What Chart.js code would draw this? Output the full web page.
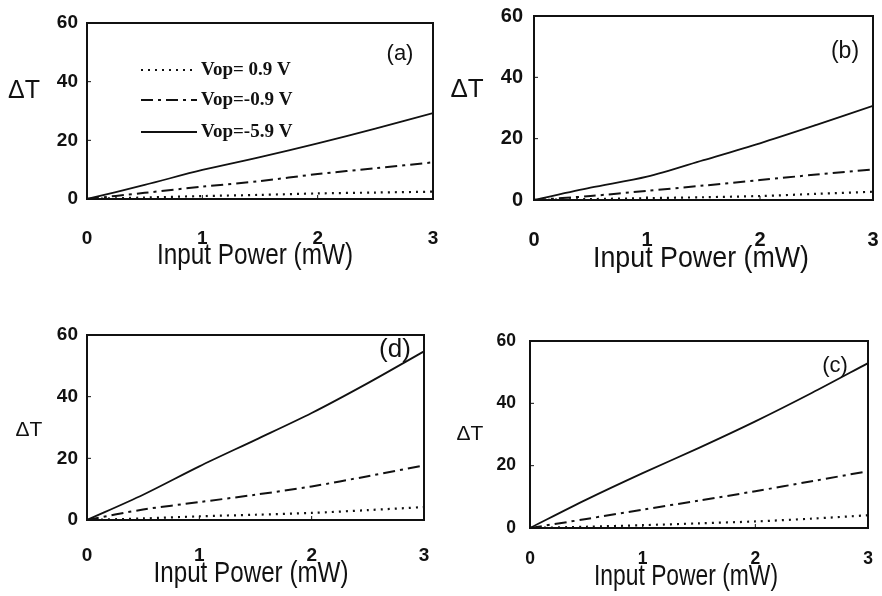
<!DOCTYPE html>
<html>
<head>
<meta charset="utf-8">
<script src="https://cdn.jsdelivr.net/npm/chart.js@4"></script>
<style>
  body { margin: 0; background: #fff; }
  #wrap { position: relative; width: 882px; height: 596px; }
  canvas { position: absolute; }
</style>
</head>
<body>
<div id="wrap">
  <canvas id="chartA" width="441" height="298" style="left:0;top:0"></canvas>
  <canvas id="chartB" width="441" height="298" style="left:441px;top:0"></canvas>
  <canvas id="chartD" width="441" height="298" style="left:0;top:298px"></canvas>
  <canvas id="chartC" width="441" height="298" style="left:441px;top:298px"></canvas>
</div>
<script>
// input power (mW)
const powerX = [0, 0.5, 1, 1.5, 2, 2.5, 3];
const yTicks = [0, 20, 40, 60];
const xTicks = [0, 1, 2, 3];
const seriesNames = ['Vop= 0.9 V', 'Vop=-0.9 V', 'Vop=-5.9 V'];

// delta T for each panel, one array per Vop
const aVop09  = [0, 0.5, 1.0, 1.4, 1.9, 2.2, 2.5];
const aVopM09 = [0, 2.1, 4.2, 6.1, 8.5, 10.5, 12.5];
const aVopM59 = [0, 4.8, 9.9, 14.3, 19.0, 24.0, 29.3];

const bVop09  = [0, 0.3, 0.6, 0.9, 1.3, 2.0, 2.7];
const bVopM09 = [0, 1.3, 3.0, 4.7, 6.5, 8.3, 10.0];
const bVopM59 = [0, 4.0, 7.6, 13.0, 18.5, 24.5, 30.7];

const dVop09  = [0, 0.5, 1.2, 1.7, 2.3, 3.2, 4.2];
const dVopM09 = [0, 3.4, 5.8, 8.2, 10.9, 14.2, 17.7];
const dVopM59 = [0, 8.2, 17.4, 26.0, 34.7, 44.4, 54.7];

const cVop09  = [0, 0.4, 0.9, 1.5, 2.1, 3.0, 4.1];
const cVopM09 = [0, 2.9, 5.9, 8.8, 11.8, 15.0, 18.2];
const cVopM59 = [0, 9.1, 17.6, 25.7, 34.2, 43.3, 52.9];

const lineStyles = [
    { borderDash: [2, 5], borderWidth: 2.2 },
    { borderDash: [12, 5, 3, 5], borderWidth: 2 },
    { borderDash: [], borderWidth: 1.8 },
];

const panelDecor = {
    id: 'panelDecor',
    afterDraw(chart, args, o) {
        const ctx = chart.ctx;
        const a = chart.chartArea;
        const xs = chart.scales.x, ys = chart.scales.y;
        ctx.save();
        // frame
        ctx.strokeStyle = '#111';
        ctx.lineWidth = 2;
        ctx.strokeRect(a.left, a.top, a.right - a.left, a.bottom - a.top);
        // small inner ticks
        ctx.lineWidth = 1;
        [20, 40].forEach(v => {
            const y = ys.getPixelForValue(v);
            ctx.beginPath(); ctx.moveTo(a.left, y); ctx.lineTo(a.left + 4, y); ctx.stroke();
        });
        [1, 2].forEach(v => {
            const x = xs.getPixelForValue(v);
            ctx.beginPath(); ctx.moveTo(x, a.bottom); ctx.lineTo(x, a.bottom - 4); ctx.stroke();
        });
        ctx.fillStyle = '#111';
        ctx.textAlign = 'center';
        ctx.textBaseline = 'middle';
        // delta T
        ctx.font = o.dtFont + 'px "Liberation Sans", Arial, sans-serif';
        ctx.fillText('\u0394T', o.dtPos[0], o.dtPos[1]);
        // panel letter
        ctx.font = o.tagFont + 'px "Liberation Sans", Arial, sans-serif';
        ctx.fillText(o.tag, o.tagPos[0], o.tagPos[1]);
        // x title, squeezed to the narrow face of the original
        ctx.font = '30px "Liberation Sans", Arial, sans-serif';
        const t = 'Input Power (mW)';
        const k = o.titleWidth / ctx.measureText(t).width;
        ctx.translate(o.titlePos[0], o.titlePos[1]);
        ctx.scale(k, 1);
        ctx.fillText(t, 0, 0);
        ctx.restore();

        if (o.legend) {
            ctx.save();
            ctx.strokeStyle = '#111';
            ctx.fillStyle = '#111';
            ctx.font = 'bold 19px "Liberation Serif", "Times New Roman", serif';
            ctx.textBaseline = 'middle';
            chart.data.datasets.forEach((ds, i) => {
                const y = o.legend.rows[i];
                ctx.lineWidth = ds.borderWidth;
                ctx.setLineDash(ds.borderDash);
                ctx.beginPath();
                ctx.moveTo(o.legend.x0, y);
                ctx.lineTo(o.legend.x1, y);
                ctx.stroke();
                ctx.setLineDash([]);
                ctx.fillText(ds.label, o.legend.x1 + 4, y);
            });
            ctx.restore();
        }
    }
};

function makePanel(id, series, p) {
    const ctx = document.getElementById(id).getContext('2d');
    const tickFont = { family: '"Liberation Sans", Arial, sans-serif', size: p.tickFont, weight: 'bold' };
    // invisible tick marks give the label gap without widening the layout
    const hiddenGrid = (len) => ({
        display: true, drawOnChartArea: false, drawTicks: true,
        tickLength: len, color: 'rgba(0,0,0,0)',
    });
    new Chart(ctx, {
        type: 'line',
        data: {
            datasets: series.map((vals, i) => ({
                label: seriesNames[i],
                data: powerX.map((x, j) => ({ x: x, y: vals[j] })),
                borderColor: '#111',
                borderDash: lineStyles[i].borderDash,
                borderWidth: lineStyles[i].borderWidth,
                pointRadius: 0,
                tension: 0.3,
                fill: false,
            })),
        },
        options: {
            responsive: false,
            animation: false,
            layout: { padding: { left: 0, top: p.top, right: p.right, bottom: 0 } },
            plugins: {
                legend: { display: false },
                tooltip: { enabled: false },
                panelDecor: p.decor,
            },
            scales: {
                x: {
                    type: 'linear',
                    min: 0, max: 3,
                    afterFit: (s) => { s.height = p.xHeight; },
                    afterBuildTicks: (s) => { s.ticks = xTicks.map(v => ({ value: v })); },
                    grid: hiddenGrid(p.xPad),
                    border: { display: false },
                    ticks: { color: '#111', font: tickFont, padding: 0, maxRotation: 0 },
                },
                y: {
                    min: 0, max: 60,
                    afterFit: (s) => { s.width = p.yWidth; },
                    afterBuildTicks: (s) => { s.ticks = yTicks.map(v => ({ value: v })); },
                    grid: hiddenGrid(p.yPad),
                    border: { display: false },
                    ticks: { color: '#111', font: tickFont, padding: 0 },
                },
            },
        },
        plugins: [panelDecor],
    });
}

makePanel('chartA', [aVop09, aVopM09, aVopM59], {
    top: 23, right: 8, yWidth: 87, xHeight: 99, yPad: 9, xPad: 28, tickFont: 19,
    decor: {
        dtFont: 25, dtPos: [24, 91], tag: '(a)', tagFont: 22, tagPos: [400, 54],
        titlePos: [255, 256], titleWidth: 196,
        legend: { x0: 141, x1: 197, rows: [70, 100, 132] },
    },
});
makePanel('chartB', [bVop09, bVopM09, bVopM59], {
    top: 16, right: 9, yWidth: 93, xHeight: 98, yPad: 11, xPad: 28, tickFont: 20,
    decor: {
        dtFont: 26, dtPos: [26, 90], tag: '(b)', tagFont: 23, tagPos: [404, 52],
        titlePos: [260, 259], titleWidth: 216,
    },
});
makePanel('chartD', [dVop09, dVopM09, dVopM59], {
    top: 37, right: 17, yWidth: 87, xHeight: 76, yPad: 9, xPad: 24, tickFont: 19,
    decor: {
        dtFont: 21, dtPos: [29, 132], tag: '(d)', tagFont: 26, tagPos: [395, 52],
        titlePos: [251, 276], titleWidth: 195,
    },
});
makePanel('chartC', [cVop09, cVopM09, cVopM59], {
    top: 43, right: 14, yWidth: 89, xHeight: 68, yPad: 14, xPad: 21, tickFont: 17.5,
    decor: {
        dtFont: 21, dtPos: [29, 136], tag: '(c)', tagFont: 22, tagPos: [394, 68],
        titlePos: [245, 279], titleWidth: 184,
    },
});
</script>
</body>
</html>
